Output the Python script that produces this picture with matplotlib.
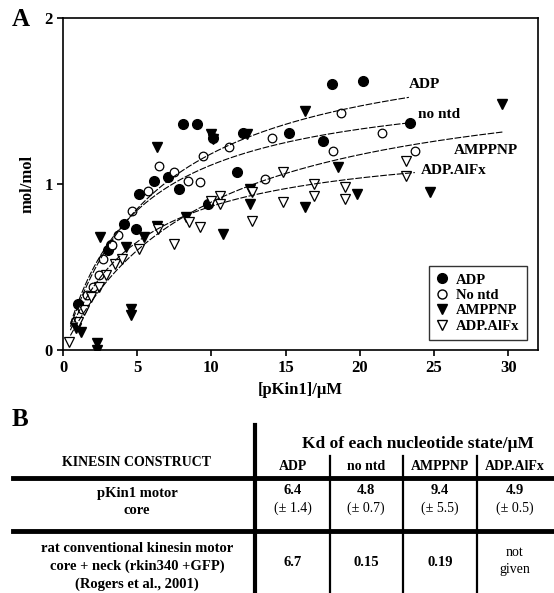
import numpy as np
import matplotlib
matplotlib.use("Agg")
import matplotlib.pyplot as plt
from matplotlib.lines import Line2D

plt.rcParams['font.family'] = ['Liberation Serif', 'DejaVu Serif']
plt.rcParams['font.weight'] = 'bold'

# --- panel A data ---
adp_x = [1.0, 3.0, 3.2, 4.1, 4.9, 5.1, 6.1, 7.1, 7.8, 8.1, 9.0, 9.8, 10.1, 11.7, 12.1, 15.2, 17.5, 18.1, 20.2, 23.4]
adp_y = [0.28, 0.60, 0.63, 0.76, 0.73, 0.94, 1.02, 1.04, 0.97, 1.36, 1.36, 0.88, 1.28, 1.07, 1.31, 1.31, 1.26, 1.60, 1.62, 1.37]

nontd_x = [0.8, 1.3, 1.6, 2.0, 2.4, 2.7, 3.3, 3.7, 4.65, 5.7, 6.5, 7.5, 8.4, 9.2, 9.4, 11.2, 13.6, 14.1, 18.2, 18.7, 21.5, 23.7]
nontd_y = [0.17, 0.25, 0.33, 0.38, 0.45, 0.55, 0.63, 0.69, 0.84, 0.96, 1.11, 1.07, 1.02, 1.01, 1.17, 1.22, 1.03, 1.28, 1.20, 1.43, 1.31, 1.20]

amppnp_x = [0.9, 1.2, 2.3, 2.3, 2.5, 4.25, 4.6, 4.6, 5.45, 6.3, 6.3, 8.3, 10.0, 10.1, 10.8, 12.4, 12.6, 12.6, 16.3, 16.3, 18.5, 19.8, 24.7, 29.6]
amppnp_y = [0.13, 0.11, 0.04, 0.00, 0.68, 0.62, 0.25, 0.21, 0.68, 1.22, 0.75, 0.80, 1.30, 1.27, 0.70, 1.30, 0.97, 0.88, 1.44, 0.86, 1.10, 0.94, 0.95, 1.48]

alfx_x = [0.4, 1.0, 1.4, 1.9, 2.4, 2.9, 3.5, 4.0, 5.1, 6.4, 7.5, 8.5, 9.2, 10.0, 10.6, 10.6, 12.7, 12.7, 14.8, 14.8, 16.9, 16.9, 19.0, 19.0, 23.1, 23.1]
alfx_y = [0.05, 0.17, 0.24, 0.32, 0.38, 0.45, 0.52, 0.55, 0.61, 0.73, 0.64, 0.77, 0.74, 0.90, 0.93, 0.88, 0.78, 0.95, 1.07, 0.89, 1.00, 0.93, 0.98, 0.91, 1.14, 1.05]

# hyperbolic fits: Kd from table, Bmax estimated, x-range of each drawn curve
fit_names = ["ADP", "no ntd", "AMPPNP", "ADP.AlFx"]
fit_kd = [6.4, 4.8, 9.4, 4.9]
fit_bmax = [1.94, 1.65, 1.73, 1.29]
fit_xmax = [23.3, 23.4, 29.6, 23.7]
label_x = [23.3, 23.9, 26.3, 24.1]
label_y = [1.60, 1.42, 1.20, 1.08]

# --- panel B table ---
construct_rows = [["pKin1 motor", "core"],
                  ["rat conventional kinesin motor", "core + neck (rkin340 +GFP)", "(Rogers et al., 2001)"]]
col_heads = ["ADP", "no ntd", "AMPPNP", "ADP.AlFx"]
kd_pkin1 = ["6.4", "4.8", "9.4", "4.9"]
kd_pkin1_err = ["(\u00b1 1.4)", "(\u00b1 0.7)", "(\u00b1 5.5)", "(\u00b1 0.5)"]
kd_rat = ["6.7", "0.15", "0.19", None]

W, H = 554, 593
fig = plt.figure(figsize=(W / 100, H / 100), dpi=100)


def fx(px):
    return px / W


def fy(py):
    return 1 - py / H


ax = fig.add_axes([fx(63), fy(350), fx(538) - fx(63), fy(18) - fy(350)])

ms = 7
ax.plot(adp_x, adp_y, 'o', ms=ms, mfc='black', mec='black', ls='none')
ax.plot(nontd_x, nontd_y, 'o', ms=ms - 0.8, mfc='white', mec='black', mew=0.9, ls='none')
ax.plot(amppnp_x, amppnp_y, 'v', ms=ms, mfc='black', mec='black', ls='none')
ax.plot(alfx_x, alfx_y, 'v', ms=ms - 0.5, mfc='white', mec='black', mew=0.9, ls='none')

for name, kd, bm, xm, lx, ly in zip(fit_names, fit_kd, fit_bmax, fit_xmax, label_x, label_y):
    xs = np.linspace(0.5, xm, 200)
    ax.plot(xs, bm * xs / (kd + xs), color='black', lw=0.8, ls=(0, (6, 1.5)))
    ax.text(lx, ly, name, fontsize=11, fontweight='bold', va='center', ha='left')

ax.set_xlim(0, 32)
ax.set_ylim(0, 2)
ax.set_xticks([0, 5, 10, 15, 20, 25, 30])
ax.set_yticks([0, 1, 2])
ax.tick_params(direction='out', length=4, width=1.2, labelsize=12)
for lab in ax.get_xticklabels() + ax.get_yticklabels():
    lab.set_fontweight('bold')
for sp in ax.spines.values():
    sp.set_linewidth(1.2)
ax.set_xlabel("[pKin1]/\u03bcM", fontsize=12, fontweight='bold', labelpad=4)
ax.set_ylabel("mol/mol", fontsize=12, fontweight='bold', labelpad=6)

handles = [
    Line2D([], [], marker='o', ls='none', ms=7, mfc='black', mec='black'),
    Line2D([], [], marker='o', ls='none', ms=6.5, mfc='white', mec='black'),
    Line2D([], [], marker='v', ls='none', ms=7, mfc='black', mec='black'),
    Line2D([], [], marker='v', ls='none', ms=7, mfc='white', mec='black'),
]
leg = ax.legend(handles, ["ADP", "No ntd", "AMPPNP", "ADP.AlFx"], loc='lower right',
                bbox_to_anchor=(0.977, 0.03), borderaxespad=0, fancybox=False,
                edgecolor='black', handlelength=0.8, handletextpad=0.6,
                labelspacing=0.15, borderpad=0.5,
                prop={'weight': 'bold', 'size': 10.5})
leg.get_frame().set_linewidth(1.0)

fig.text(fx(21), fy(20), "A", fontsize=18, fontweight='bold', ha='center', va='center')
fig.text(fx(20), fy(420), "B", fontsize=18, fontweight='bold', ha='center', va='center')

# --- table lines ---
for py in (478, 531):
    fig.add_artist(Line2D([fx(13), fx(554)], [fy(py), fy(py)], color='black', lw=3.5))
fig.add_artist(Line2D([fx(255), fx(255)], [fy(425), fy(593)], color='black', lw=3))
for px in (330, 403, 477):
    fig.add_artist(Line2D([fx(px), fx(px)], [fy(456), fy(593)], color='black', lw=1.6))

fig.text(fx(137), fy(462), "KINESIN CONSTRUCT", fontsize=10, fontweight='bold', ha='center', va='center')
fig.text(fx(418), fy(444), "Kd of each nucleotide state/\u03bcM", fontsize=12.5, fontweight='bold',
         ha='center', va='center')
col_x = [293, 366, 440, 515]
for cx, h in zip(col_x, col_heads):
    fig.text(fx(cx), fy(467), h, fontsize=10, fontweight='bold', ha='center', va='center')

for i, line in enumerate(construct_rows[0]):
    fig.text(fx(137), fy(493 + 18 * i), line, fontsize=10.5, fontweight='bold', ha='center', va='center')
for i, line in enumerate(construct_rows[1]):
    fig.text(fx(137), fy(548 + 18 * i), line, fontsize=10.5, fontweight='bold', ha='center', va='center')

for cx, v, e in zip(col_x, kd_pkin1, kd_pkin1_err):
    fig.text(fx(cx), fy(491), v, fontsize=10.5, fontweight='bold', ha='center', va='center')
    fig.text(fx(cx), fy(508), e, fontsize=10, fontweight='normal', ha='center', va='center')

for cx, v in zip(col_x, kd_rat):
    if v is None:
        fig.text(fx(cx), fy(552), "not", fontsize=10, fontweight='normal', ha='center', va='center')
        fig.text(fx(cx), fy(570), "given", fontsize=10, fontweight='normal', ha='center', va='center')
    else:
        fig.text(fx(cx), fy(562), v, fontsize=10.5, fontweight='bold', ha='center', va='center')

fig.savefig("out.png", dpi=100)
